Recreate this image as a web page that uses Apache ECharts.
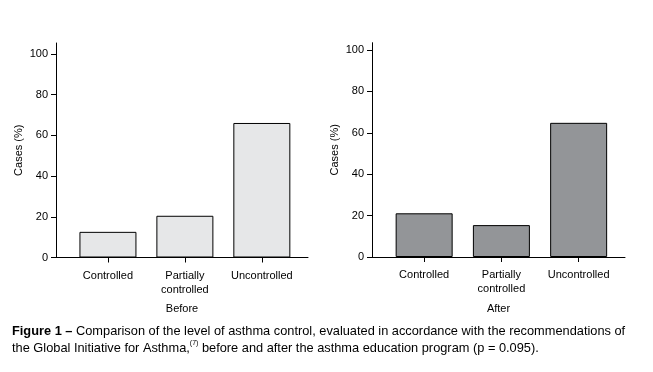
<!DOCTYPE html>
<html>
<head>
<meta charset="utf-8">
<script src="https://cdn.jsdelivr.net/npm/echarts@6/dist/echarts.min.js"></script>
<style>html,body{margin:0;padding:0;background:#fff}#c{width:653px;height:372px}</style>
</head>
<body>
<div id="c"></div>
<script>
var categories = ['Controlled', 'Partially\ncontrolled', 'Uncontrolled'];
var categoryPositions = [1, 2, 3];
var beforeValues = [12.6, 20.5, 66.1];
var afterValues = [21.1, 15.4, 64.8];
var yTickValues = [0, 20, 40, 60, 80, 100];
var panelNames = ['Before', 'After'];

var FONT = 'Liberation Sans';
var chart = echarts.init(document.getElementById('c'));

function xAxisFor(gi, name) {
  return {
    type: 'value', gridIndex: gi, min: 0.325, max: 3.6,
    name: name, nameLocation: 'middle', nameGap: 46,
    nameTextStyle: { color: '#000', fontFamily: FONT, fontSize: 11 },
    axisLine: { onZero: false, lineStyle: { color: '#000', width: 1 } },
    axisTick: { show: true, length: 5, customValues: categoryPositions, lineStyle: { color: '#000' } },
    axisLabel: {
      customValues: categoryPositions, margin: 11, color: '#000', fontFamily: FONT, fontSize: 11, lineHeight: 14,
      formatter: function (v) { return categories[Math.round(v) - 1] || ''; }
    },
    splitLine: { show: false }
  };
}
function yAxisFor(gi, max) {
  return {
    type: 'value', gridIndex: gi, min: 0, max: max,
    name: 'Cases (%)', nameLocation: 'middle', nameGap: 32,
    nameTextStyle: { color: '#000', fontFamily: FONT, fontSize: 11 },
    axisLine: { show: true, lineStyle: { color: '#000', width: 1 } },
    axisTick: { show: true, length: 5, customValues: yTickValues, lineStyle: { color: '#000' } },
    axisLabel: { customValues: yTickValues, margin: 8, color: '#000', fontFamily: FONT, fontSize: 11 },
    splitLine: { show: false }
  };
}

chart.setOption({
  animation: false,
  backgroundColor: '#fff',
  title: {
    left: 12, top: 323, padding: 0,
    text: '{b|Figure 1 –} Comparison of the level of asthma control, evaluated in accordance with the recommendations of\nthe Global Initiative for Asthma,{s|(7)} before and after the asthma education program (p = 0.095).',
    textStyle: {
      color: '#000', fontFamily: FONT, fontSize: 12.8, fontWeight: 'normal', lineHeight: 17,
      rich: {
        b: { fontWeight: 'bold', fontFamily: FONT, fontSize: 12.8, color: '#000' },
        s: { fontSize: 7, fontFamily: FONT, verticalAlign: 'top', color: '#000' }
      }
    }
  },
  grid: [
    { left: 56, top: 43, width: 252, height: 214.5 },
    { left: 372, top: 42.7, width: 253, height: 214.3 }
  ],
  xAxis: [xAxisFor(0, panelNames[0]), xAxisFor(1, panelNames[1])],
  yAxis: [yAxisFor(0, 105.4), yAxisFor(1, 103.5)],
  series: [
    {
      type: 'bar', xAxisIndex: 0, yAxisIndex: 0, barWidth: 57,
      itemStyle: { color: '#e6e7e8', borderColor: '#000', borderWidth: 1 },
      data: beforeValues.map(function (v, i) { return [categoryPositions[i], v]; })
    },
    {
      type: 'bar', xAxisIndex: 1, yAxisIndex: 1, barWidth: 57,
      itemStyle: { color: '#939598', borderColor: '#000', borderWidth: 1 },
      data: afterValues.map(function (v, i) { return [categoryPositions[i], v]; })
    }
  ]
});
</script>
</body>
</html>
